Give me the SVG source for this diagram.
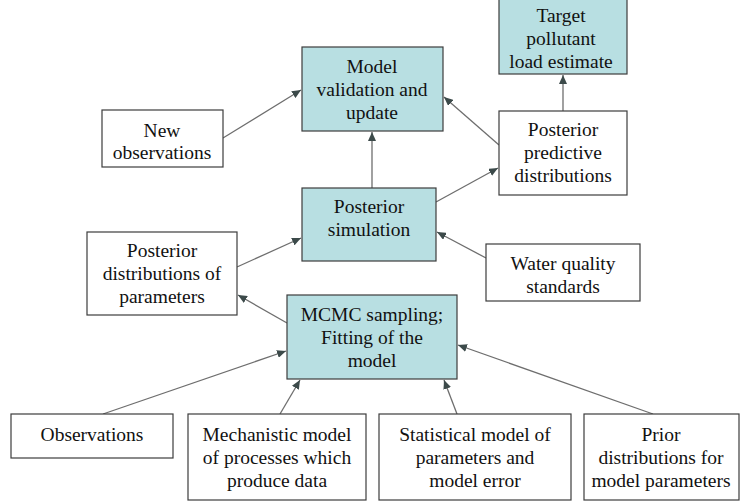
<svg xmlns="http://www.w3.org/2000/svg" width="740" height="504" viewBox="0 0 740 504">
  <style>
    .box { fill: #ffffff; stroke: #3c3c3c; stroke-width: 1.2; }
    .key { fill: #b8dfe2; stroke: #3c3c3c; stroke-width: 1.2; }
    .lbl { font-family: 'Liberation Serif', 'Times New Roman', Times, 'DejaVu Serif', serif; font-size: 19.5px; fill: #111111; text-anchor: middle; }
    .edge { stroke: #6e6e6e; stroke-width: 1.3; fill: none; marker-end: url(#arrow); }
  </style>
  <defs>
    <marker id="arrow" markerUnits="userSpaceOnUse" markerWidth="10" markerHeight="8" refX="9" refY="4" orient="auto">
      <path d="M0,0 L9,4 L0,8 z" fill="#3c4a4a"/>
    </marker>
  </defs>
  <rect width="740" height="504" fill="#ffffff"/>

  <g id="connectors">
    <line class="edge" x1="223" y1="138" x2="301" y2="90"/>
    <line class="edge" x1="499" y1="145" x2="444" y2="97"/>
    <line class="edge" x1="372" y1="188" x2="372" y2="132"/>
    <line class="edge" x1="563" y1="111" x2="563" y2="75"/>
    <line class="edge" x1="436" y1="202" x2="498" y2="168"/>
    <line class="edge" x1="486" y1="258" x2="437" y2="232"/>
    <line class="edge" x1="237" y1="267" x2="301" y2="238"/>
    <line class="edge" x1="287" y1="323" x2="238" y2="295"/>
    <line class="edge" x1="103" y1="414" x2="286" y2="351"/>
    <line class="edge" x1="280" y1="414" x2="300" y2="380"/>
    <line class="edge" x1="457" y1="414" x2="444" y2="380"/>
    <line class="edge" x1="653" y1="414" x2="458" y2="345"/>
  </g>

  <g id="target">
    <rect class="key" x="499" y="-1" width="128" height="75"/>
    <text class="lbl" font-family="Liberation Serif, serif" x="561" y="22">Target</text>
    <text class="lbl" font-family="Liberation Serif, serif" x="561" y="45">pollutant</text>
    <text class="lbl" font-family="Liberation Serif, serif" x="561" y="68">load estimate</text>
  </g>

  <g id="validation">
    <rect class="key" x="302" y="47" width="141" height="84"/>
    <text class="lbl" x="372" y="73">Model</text>
    <text class="lbl" x="372" y="96">validation and</text>
    <text class="lbl" x="372" y="119">update</text>
  </g>

  <g id="new-observations">
    <rect class="box" x="102" y="110" width="121" height="57"/>
    <text class="lbl" x="162" y="137">New</text>
    <text class="lbl" x="162" y="159">observations</text>
  </g>

  <g id="predictive">
    <rect class="box" x="499" y="111" width="128" height="84"/>
    <text class="lbl" x="563" y="136">Posterior</text>
    <text class="lbl" x="563" y="159">predictive</text>
    <text class="lbl" x="563" y="182">distributions</text>
  </g>

  <g id="simulation">
    <rect class="key" x="302" y="188" width="134" height="73"/>
    <text class="lbl" x="369" y="213">Posterior</text>
    <text class="lbl" x="369" y="236">simulation</text>
  </g>

  <g id="posterior-parameters">
    <rect class="box" x="87" y="232" width="150" height="83"/>
    <text class="lbl" x="162" y="257">Posterior</text>
    <text class="lbl" x="162" y="280">distributions of</text>
    <text class="lbl" x="162" y="303">parameters</text>
  </g>

  <g id="standards">
    <rect class="box" x="486" y="244" width="154" height="57"/>
    <text class="lbl" x="563" y="270">Water quality</text>
    <text class="lbl" x="563" y="293">standards</text>
  </g>

  <g id="mcmc">
    <rect class="key" x="287" y="295" width="170" height="84"/>
    <text class="lbl" x="372" y="321">MCMC sampling;</text>
    <text class="lbl" x="372" y="344">Fitting of the</text>
    <text class="lbl" x="372" y="367">model</text>
  </g>

  <g id="observations">
    <rect class="box" x="11" y="414" width="162" height="44"/>
    <text class="lbl" x="92" y="441">Observations</text>
  </g>

  <g id="mechanistic">
    <rect class="box" x="188" y="414" width="178" height="86"/>
    <text class="lbl" x="277" y="441">Mechanistic model</text>
    <text class="lbl" x="277" y="464">of processes which</text>
    <text class="lbl" x="277" y="487">produce data</text>
  </g>

  <g id="statistical">
    <rect class="box" x="379" y="414" width="192" height="86"/>
    <text class="lbl" x="475" y="441">Statistical model of</text>
    <text class="lbl" x="475" y="464">parameters and</text>
    <text class="lbl" x="475" y="487">model error</text>
  </g>

  <g id="prior">
    <rect class="box" x="584" y="414" width="155" height="86"/>
    <text class="lbl" x="661" y="441">Prior</text>
    <text class="lbl" x="661" y="464">distributions for</text>
    <text class="lbl" x="661" y="487">model parameters</text>
  </g>
</svg>
